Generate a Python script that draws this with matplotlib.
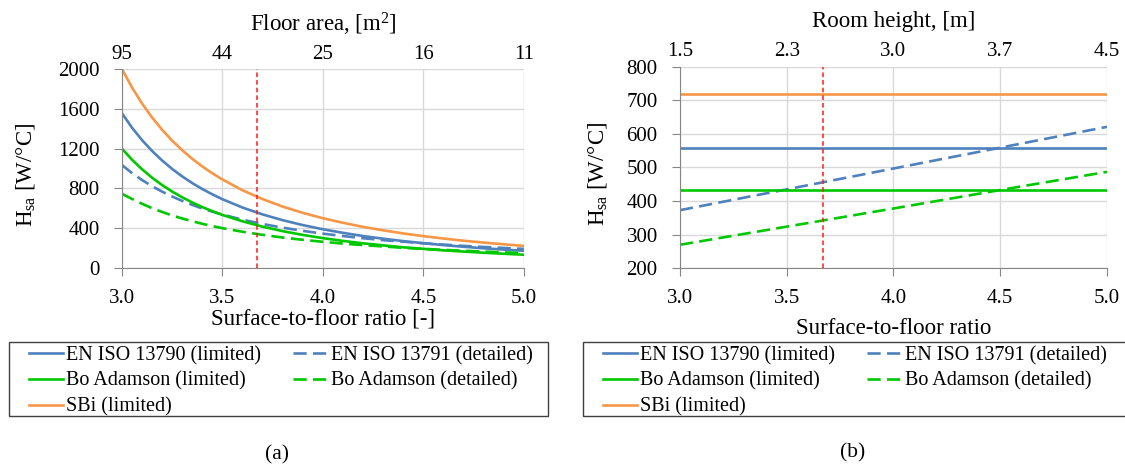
import matplotlib
matplotlib.use("Agg")
import matplotlib.pyplot as plt
from matplotlib.patches import Rectangle

plt.rcParams["font.family"] = ["Liberation Serif", "DejaVu Serif"]
plt.rcParams["mathtext.fontset"] = "custom"
plt.rcParams["mathtext.rm"] = "Liberation Serif"
plt.rcParams["mathtext.it"] = "Liberation Serif:italic"

# ---- data (a): H_sa vs surface-to-floor ratio, fixed room height
ratio_a = [3.0, 3.05, 3.1, 3.15, 3.2, 3.25, 3.3, 3.35, 3.4, 3.45, 3.5, 3.6, 3.7, 3.8, 3.9, 4.0,
           4.1, 4.2, 4.3, 4.4, 4.5, 4.6, 4.7, 4.8, 4.9, 5.0]
en_limited_a = [1555, 1410, 1285, 1176, 1080, 995, 920, 853, 793, 740, 691, 607, 538, 480, 431, 389,
                353, 321, 294, 270, 249, 230, 213, 198, 185, 173]
en_detailed_a = [1035, 954, 884, 822, 767, 718, 674, 634, 598, 566, 537, 485, 442, 405, 373, 345,
                 321, 299, 280, 264, 248, 235, 222, 211, 201, 192]
bo_limited_a = [1200, 1088, 992, 907, 833, 768, 710, 658, 612, 571, 533, 469, 415, 370, 332, 300,
                272, 248, 227, 208, 192, 177, 165, 153, 143, 133]
bo_detailed_a = [745, 694, 645, 601, 563, 528, 497, 470, 444, 421, 400, 364, 333, 306, 283, 263,
                 245, 230, 216, 203, 192, 182, 173, 165, 157, 150]
sbi_limited_a = [2000, 1814, 1653, 1512, 1389, 1280, 1183, 1097, 1020, 951, 889, 781, 692, 617, 554, 500,
                 454, 413, 378, 347, 320, 296, 274, 255, 238, 222]
floor_area_labels = ["95", "44", "25", "16", "11"]

# ---- data (b): H_sa vs surface-to-floor ratio, fixed floor area
ratio_b = [3.0, 3.5, 4.0, 4.5, 5.0]
en_limited_b = [558, 558, 558, 558, 558]
en_detailed_b = [373, 435, 497, 559, 621]
bo_limited_b = [433, 433, 433, 433, 433]
bo_detailed_b = [270, 324, 378, 433, 487]
sbi_limited_b = [720, 720, 720, 720, 720]
room_height_labels = ["1.5", "2.3", "3.0", "3.7", "4.5"]

x_ticks = [3.0, 3.5, 4.0, 4.5, 5.0]
red_line_x = 3.67

names = ["EN ISO 13790 (limited)", "EN ISO 13791 (detailed)",
         "Bo Adamson (limited)", "Bo Adamson (detailed)", "SBi (limited)"]
BLUE, GREEN, ORANGE = "#4F81BD", "#00C800", "#F79646"
styles = [(BLUE, "-"), (BLUE, "--"), (GREEN, "-"), (GREEN, "--"), (ORANGE, "-")]

W, H = 1125, 468
fig = plt.figure(figsize=(W / 100, H / 100), dpi=100)
ax_a = fig.add_axes([0.1084, 0.4274, 0.3573, 0.4252])
ax_b = fig.add_axes([0.6044, 0.4267, 0.3796, 0.4308])


def draw(ax, x, series, yticks, top_labels, top_title, xlabel, xlabel_y, title_y, ylabel_x):
    handles = []
    for y, (c, ls), name in zip(series, styles, names):
        kw = dict(dashes=(5, 2.4)) if ls == "--" else {}
        h, = ax.plot(x, y, color=c, lw=1.9, ls=ls, label=name, **kw)
        handles.append(h)
    ax.axvline(red_line_x, color="#FF1A1A", lw=1.1, dashes=(3, 2))
    ax.set_xlim(3.0, 5.0)
    ax.set_ylim(yticks[0], yticks[-1])
    ax.set_xticks(x_ticks)
    ax.set_xticklabels([f"{t:.1f}" for t in x_ticks])
    ax.set_yticks(yticks)
    ax.grid(True, color="#D9D9D9", lw=1)
    ax.set_axisbelow(True)
    for s in ["top", "right"]:
        ax.spines[s].set_visible(False)
    for s in ["left", "bottom"]:
        ax.spines[s].set_color("#868686")
    ax.tick_params(axis="both", labelsize=15, color="#868686", length=6, direction="out")
    ax.tick_params(axis="y", pad=10)
    ax.tick_params(axis="x", pad=9)
    ax.set_xlabel(xlabel, fontsize=16.5, va="center")
    ax.xaxis.set_label_coords(0.5, xlabel_y)
    ax.set_ylabel(r"H$_{\mathrm{sa}}$ [W/°C]", fontsize=16.5, va="center")
    ax.yaxis.set_label_coords(ylabel_x, 0.47)

    top = ax.twiny()
    top.set_xlim(ax.get_xlim())
    top.set_xticks(x_ticks)
    top.set_xticklabels(top_labels)
    top.tick_params(axis="x", length=0, labelsize=15, pad=3.8)
    for s in top.spines.values():
        s.set_visible(False)
    top.set_xlabel(top_title, fontsize=16.5, va="center")
    top.xaxis.set_label_coords(0.5, title_y)
    return handles


h_a = draw(ax_a, ratio_a,
           [en_limited_a, en_detailed_a, bo_limited_a, bo_detailed_a, sbi_limited_a],
           [0, 400, 800, 1200, 1600, 2000], floor_area_labels,
           r"Floor area, [m$^{2}$]", "Surface-to-floor ratio [-]", -0.256, 1.226, -0.241)
h_b = draw(ax_b, ratio_b,
           [en_limited_b, en_detailed_b, bo_limited_b, bo_detailed_b, sbi_limited_b],
           [200, 300, 400, 500, 600, 700, 800], room_height_labels,
           "Room height, [m]", "Surface-to-floor ratio", -0.3, 1.222, -0.194)

# legends below each panel, inside a plain box
order = [0, 2, 4, 1, 3]
for handles, (bx0, bx1, lx) in [(h_a, (9, 548, 27)), (h_b, (583, 1135, 601))]:
    fig.patches.append(Rectangle((bx0 / W, 1 - 416 / H), (bx1 - bx0) / W, 74 / H,
                                 transform=fig.transFigure, fill=False,
                                 edgecolor="#404040", lw=1.0))
    fig.legend([handles[i] for i in order], [names[i] for i in order],
               loc="upper left", bbox_to_anchor=(lx / W, 1 - 344 / H), ncol=2,
               fontsize=14.5, frameon=False,
               handlelength=1.7, handletextpad=0.15, labelspacing=0.32,
               borderpad=0.1, borderaxespad=0, columnspacing=1.6)

fig.text(277 / W, 1 - 455 / H, "(a)", fontsize=15.5, ha="center", va="center")
fig.text(853 / W, 1 - 453 / H, "(b)", fontsize=15.5, ha="center", va="center")

fig.savefig("out.png", dpi=100)
